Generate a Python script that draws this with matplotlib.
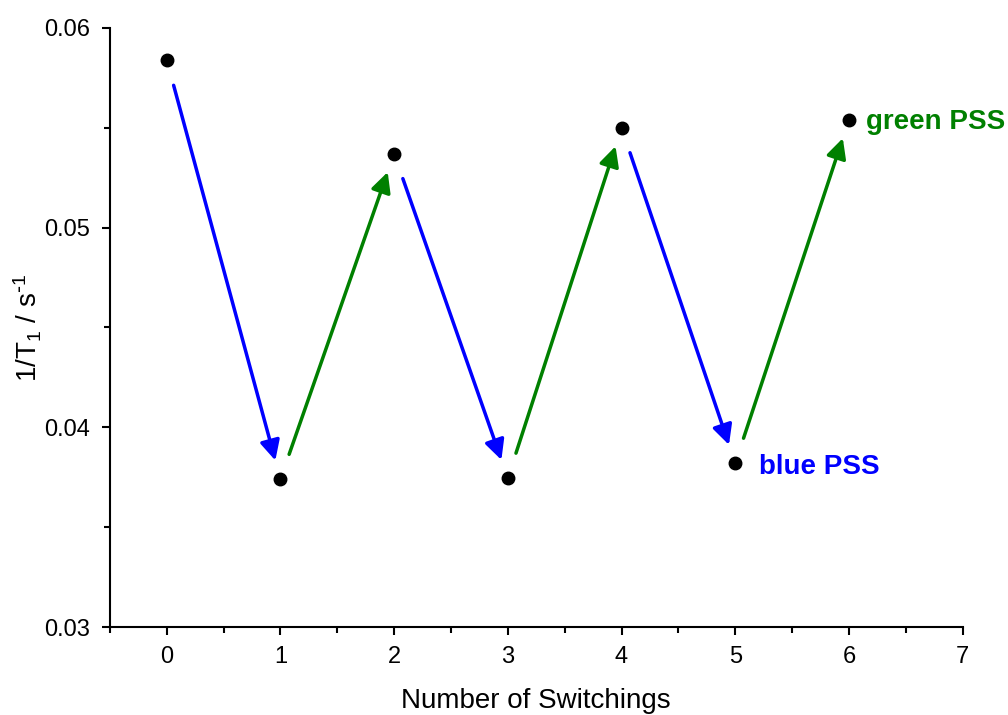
import matplotlib
matplotlib.use("Agg")
import matplotlib.pyplot as plt
from matplotlib.ticker import MultipleLocator

plt.rcParams['font.family'] = ['Liberation Sans', 'DejaVu Sans']
plt.rcParams['mathtext.default'] = 'regular'

# data
switchings = [0, 1, 2, 3, 4, 5, 6]
rate = [0.0584, 0.0374, 0.0537, 0.03745, 0.0550, 0.0382, 0.0554]
arrow_colors = ['blue', 'green', 'blue', 'green', 'blue', 'green']
label_blue = "blue PSS"
label_green = "green PSS"

fig = plt.figure(figsize=(10.08, 7.15), dpi=100)
ax = fig.add_axes([0.109, 0.123, 0.846, 0.838])

ax.plot(switchings, rate, 'o', color='black', markersize=9, zorder=3)

# arrows between consecutive points
for i in range(len(switchings) - 1):
    ax.annotate("", xy=(switchings[i + 1], rate[i + 1]),
                xytext=(switchings[i], rate[i]),
                arrowprops=dict(arrowstyle='-|>,head_length=0.6,head_width=0.3',
                                mutation_scale=20, color=arrow_colors[i],
                                lw=2.5, shrinkA=19, shrinkB=14))

ax.annotate(label_blue, xy=(switchings[5], rate[5]), xytext=(17, -3),
            textcoords='offset points', ha='left', va='center',
            color='blue', fontsize=20, fontweight='bold')
ax.annotate(label_green, xy=(switchings[6], rate[6]), xytext=(12, -1.5),
            textcoords='offset points', ha='left', va='center',
            color='green', fontsize=20, fontweight='bold')

ax.set_xlim(-0.5, 7)
ax.set_ylim(0.03, 0.06)
ax.xaxis.set_major_locator(MultipleLocator(1))
ax.xaxis.set_minor_locator(MultipleLocator(0.5))
ax.yaxis.set_minor_locator(MultipleLocator(0.005))
ax.set_yticks([0.03, 0.04, 0.05, 0.06])
ax.set_yticklabels(['0.03', '0.04', '0.05', '0.06'])

for s in ['top', 'right']:
    ax.spines[s].set_visible(False)
for s in ['left', 'bottom']:
    ax.spines[s].set_linewidth(1.5)
ax.tick_params(which='major', direction='out', length=6, width=1.5,
               labelsize=17, pad=8, colors='black')
ax.tick_params(which='minor', direction='out', length=4, width=1.5)

ax.set_xlabel("Number of Switchings", fontsize=20, labelpad=14)
ax.set_ylabel(r"1/T$_1$ / s$^{\text{-}1}$", fontsize=20, labelpad=0)

fig.savefig("out.png", dpi=100)
